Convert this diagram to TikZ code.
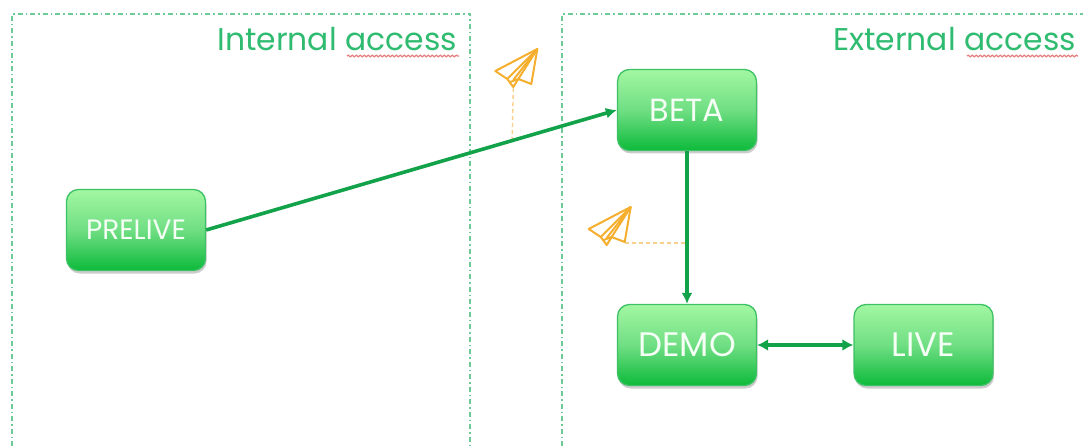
\documentclass[tikz,border=0pt]{standalone}
\usepackage{fontspec}
\setmainfont{Poppins}
\usetikzlibrary{arrows.meta,shadows,decorations.pathmorphing,calc}
\definecolor{boxtop}{HTML}{A2F7A2}
\definecolor{boxbot}{HTML}{0CBA3A}
\definecolor{boxline}{HTML}{3CC264}
\definecolor{linkgreen}{HTML}{12A24A}
\definecolor{paneline}{HTML}{6CCB96}
\definecolor{panetext}{HTML}{2FBB70}
\definecolor{planecol}{HTML}{F5AE2D}
\definecolor{dashcol}{HTML}{F9CF8C}
\definecolor{wavy}{HTML}{E58080}
\tikzset{
  x=1pt,y=-1pt,
  envbox/.style={draw=boxline,line width=1.3pt,rounded corners=12pt,minimum width=139pt,minimum height=81pt,
    top color=boxtop,bottom color=boxbot,middle color=boxtop!50!boxbot!85!white,text=white!88!boxtop,inner sep=0pt,
    drop shadow={shadow xshift=1pt,shadow yshift=-3pt,opacity=0.2,fill=black}},
  pane/.style={draw=paneline,line width=2.2pt,dash pattern=on 5pt off 3pt on 1.5pt off 3pt},
  panelabel/.style={text=panetext,font=\fontsize{31.4}{33}\selectfont,inner sep=0pt,anchor=base east},
  link/.style={draw=linkgreen,line width=3.6pt,-{Latex[length=11pt,width=11pt]}},
  dlink/.style={draw=linkgreen,line width=3.4pt,{Latex[length=11pt,width=12pt]}-{Latex[length=11pt,width=12pt]}},
  note/.style={draw=dashcol,line width=1.4pt,dashed,dash pattern=on 4pt off 3pt},
  planeline/.style={draw=planecol,line width=2pt,line join=round},
  wave/.style={draw=wavy,line width=1.3pt,decorate,decoration={snake,amplitude=0.8pt,segment length=4pt}},
  plane/.pic={
    \draw[planeline] (24,0) -- (-18,22) -- (-6,30) -- (0,38) -- (5,30) -- (18,35) -- cycle;
    \draw[planeline] (24,0) -- (-6,30);
    \draw[planeline] (24,0) -- (0,31);
    \draw[planeline] (24,0) -- (5,30);
    \draw[planeline] (-3,33) -- (5,30);
  }
}
\begin{document}
\begin{tikzpicture}
\useasboundingbox (0,0) rectangle (1083,446);
\coordinate (lbl) at (12,446);
\coordinate (ltl) at (12,14);
\coordinate (ltr) at (470,14);
\coordinate (lbr) at (470,446);
\coordinate (rbl) at (562,446);
\coordinate (rtl) at (562,14);
\coordinate (rtr) at (1083,14);
\draw[pane] (lbl) -- (ltl) -- (ltr) -- (lbr);
\draw[pane] (rbl) -- (rtl) -- (rtr);

\node[panelabel] (intl) at (457,51) {Internal access};
\node[panelabel] (extl) at (1076,51) {External access};
\coordinate (w1a) at (347,56); \coordinate (w1b) at (459,56);
\coordinate (w2a) at (967,56); \coordinate (w2b) at (1078,56);
\draw[wave] (w1a) -- (w1b);
\draw[wave] (w2a) -- (w2b);

\node[envbox,font=\fontsize{28}{30}\selectfont] (prelive) at (136,230) {PRELIVE};
\node[envbox,font=\fontsize{32}{34}\selectfont] (beta) at (687,110) {BETA};
\node[envbox,font=\fontsize{34}{36}\selectfont] (demo) at (687,345) {DEMO};
\node[envbox,font=\fontsize{34}{36}\selectfont] (live) at (923.5,345) {LIVE};

\path (prelive.east) -- (beta.west) coordinate[pos=0.745] (hit1);
\coordinate (hit2) at (687,243);
\pic (p1) at (513.3,49) {plane};
\pic (p2) at (606.7,207) {plane};
\coordinate (p1s) at (513.3,88);
\coordinate (p2s) at (625,243);
\draw[note] (p1s) -- (hit1);
\draw[note] (p2s) -- (hit2);

\draw[link] (prelive.east) -- (beta.west);
\draw[link] (beta.south) -- (demo.north);
\draw[dlink] (demo.east) -- (live.west);
\end{tikzpicture}
\end{document}
